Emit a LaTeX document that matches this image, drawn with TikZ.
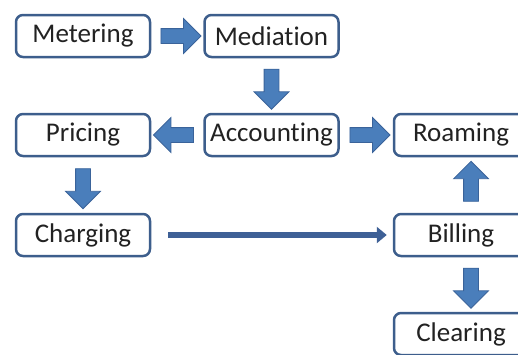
\documentclass[tikz,border=0pt]{standalone}
\usepackage{fontspec}
\setmainfont{Carlito}[Ligatures={NoCommon}]
\usetikzlibrary{shapes.arrows,arrows.meta,calc}
\definecolor{boxline}{HTML}{3D5E8C}
\definecolor{arrowfill}{HTML}{4A7EBB}
\definecolor{arrowline}{HTML}{3A639A}
\definecolor{linkline}{HTML}{3E6096}
\definecolor{labeltext}{HTML}{222222}
\tikzset{
  stage/.style={draw=boxline, line width=2.5pt, fill=white, rounded corners=7pt,
    minimum width=134pt, minimum height=42pt, inner sep=0pt,
    text=labeltext, font=\fontsize{27}{29}\selectfont},
  blockarrow/.style={single arrow, fill=arrowfill, draw=arrowline, line width=0.8pt,
    minimum height=40pt, minimum width=34pt, inner sep=7pt,
    single arrow head extend=10pt},
  link/.style={draw=linkline, line width=5.5pt,
    -{Triangle[length=10pt,width=16pt]}}
}
\begin{document}
\begin{tikzpicture}[x=1pt,y=-1pt]
\useasboundingbox (0,0) rectangle (518,354);
\clip (0,0) rectangle (518,354);
% process stages
\node[stage] (metering)   at (83,36)    {Metering};
\node[stage] (mediation)  at (271.5,36) {Mediation};
\node[stage] (pricing)    at (83,135)   {Pricing};
\node[stage] (accounting) at (271.5,135){Accounting};
\node[stage] (roaming)    at (461,135)  {Roaming};
\node[stage] (charging)   at (83,235)   {Charging};
\node[stage] (billing)    at (461,235)  {Billing};
\node[stage] (clearing)   at (461,334)  {Clearing};
% block arrows between neighbouring stages
\node[blockarrow] (a1) at ($(metering.east)!0.5!(mediation.west)$) {};
\node[blockarrow, rotate=-90] (a2) at ($(mediation.south)!0.5!(accounting.north)$) {};
\node[blockarrow, rotate=180] (a3) at ($(accounting.west)!0.5!(pricing.east)$) {};
\node[blockarrow] (a4) at ($(accounting.east)!0.5!(roaming.west)$) {};
\node[blockarrow, rotate=-90] (a5) at ($(pricing.south)!0.5!(charging.north)$) {};
\node[blockarrow, rotate=90] (a6) at ($(billing.north)!0.5!(roaming.south)+(10,0)$) {};
\node[blockarrow, rotate=-90] (a7) at ($(billing.south)!0.5!(clearing.north)+(10,0)$) {};
% long link from charging to billing
\draw[link] ($(charging.east)+(17,0)$) -- ($(billing.west)+(-6,0)$);
\end{tikzpicture}
\end{document}
